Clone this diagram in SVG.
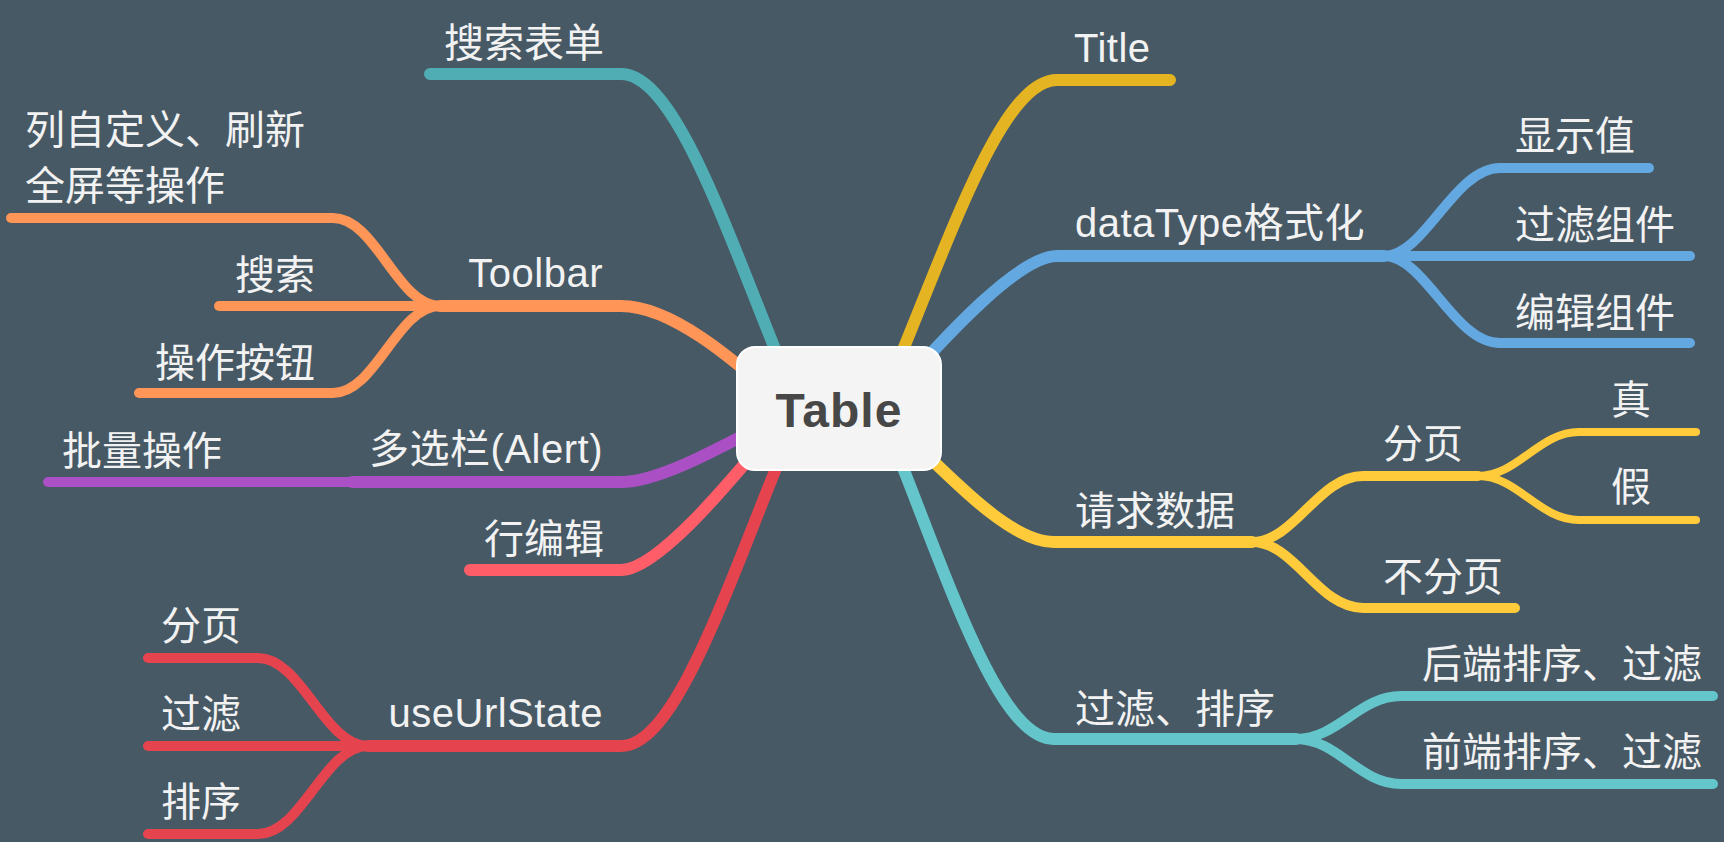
<svg xmlns="http://www.w3.org/2000/svg" width="1724" height="842" viewBox="0 0 1724 842">
<style>
.bg{fill:#475965}
.c{fill:none;stroke-linecap:round;stroke-linejoin:round}
.l1{stroke-width:12}
.l2{stroke-width:10}
.l3{stroke-width:8}
.teal{stroke:#4fadb3}
.orange{stroke:#ff9557}
.purple{stroke:#ab4fc5}
.coral{stroke:#ff5d68}
.red{stroke:#e5444f}
.gold{stroke:#e5b422}
.blue{stroke:#63a8e0}
.yellow{stroke:#ffcb3a}
.cyan{stroke:#64c6cb}
.t{font-family:"Liberation Sans","Noto Sans CJK SC",sans-serif;font-size:40px;fill:#f2f2f2}
.e{text-anchor:end}
.w{letter-spacing:0.5px}
.root rect{fill:#f4f4f4;stroke:#ffffff;stroke-width:2}
.root text{font-family:"Liberation Sans","Noto Sans CJK SC",sans-serif;font-size:48px;font-weight:bold;fill:#474747;text-anchor:middle;letter-spacing:1px}
</style>
<rect class="bg" x="0" y="0" width="1724" height="842"/>
<g id="connectors">
<path class="c l1 teal" d="M 430 74 L 621 74 C 680 74 735 258 800 410"/>
<path class="c l1 orange" d="M 440 306 L 621 306 C 670 306 730 355 790 410"/>
<path class="c l2 orange" d="M 11 218 L 333 218 C 376 218 397 306 440 306"/>
<path class="c l2 orange" d="M 219 306 L 440 306"/>
<path class="c l2 orange" d="M 139 393 L 333 393 C 376 393 397 306 440 306"/>
<path class="c l1 purple" d="M 352 482 L 621 482 C 665 482 740 436 800 406"/>
<path class="c l2 purple" d="M 48 482 L 352 482"/>
<path class="c l1 coral" d="M 470 570 L 621 570 C 660 570 740 470 790 410"/>
<path class="c l1 red" d="M 368 746 L 621 746 C 680 746 735 562 800 410"/>
<path class="c l2 red" d="M 148 658 L 258 658 C 302 658 324 746 368 746"/>
<path class="c l2 red" d="M 148 746 L 368 746"/>
<path class="c l2 red" d="M 148 834 L 258 834 C 302 834 324 746 368 746"/>
<path class="c l1 gold" d="M 1170 80 L 1057 80 C 998 80 943 260 878 410"/>
<path class="c l1 blue" d="M 1384 256 L 1057 256 C 1020 256 950 330 880 410"/>
<path class="c l2 blue" d="M 1649 168 L 1500 168 C 1454 168 1425 256 1384 256"/>
<path class="c l2 blue" d="M 1690 256 L 1384 256"/>
<path class="c l2 blue" d="M 1690 343 L 1500 343 C 1454 343 1425 256 1384 256"/>
<path class="c l1 yellow" d="M 1252 542 L 1054 542 C 1005 542 940 465 880 410"/>
<path class="c l2 yellow" d="M 1478 476 L 1363 476 C 1318 476 1295 542 1252 542"/>
<path class="c l2 yellow" d="M 1515 608 L 1363 608 C 1318 608 1295 542 1252 542"/>
<path class="c l3 yellow" d="M 1696 432 L 1579 432 C 1539 432 1518 476 1478 476"/>
<path class="c l3 yellow" d="M 1696 520 L 1579 520 C 1539 520 1518 476 1478 476"/>
<path class="c l1 cyan" d="M 1296 739 L 1054 739 C 995 739 942 560 880 410"/>
<path class="c l2 cyan" d="M 1713 696 L 1401 696 C 1359 696 1338 739 1296 739"/>
<path class="c l2 cyan" d="M 1713 784 L 1401 784 C 1359 784 1338 739 1296 739"/>
</g>
<g id="root" class="root">
<rect x="737" y="347" width="204" height="123" rx="18" ry="18"/>
<text x="839" y="427">Table</text>
</g>
<g id="n-search-form"><text class="t e" x="604" y="57">搜索表单</text></g>
<g id="n-toolbar"><text class="t e w" x="603" y="287">Toolbar</text></g>
<g id="n-col-custom"><text class="t" x="25" y="144">列自定义、刷新</text><text class="t" x="25" y="200">全屏等操作</text></g>
<g id="n-search"><text class="t e" x="315" y="289">搜索</text></g>
<g id="n-op-btn"><text class="t e" x="315" y="377">操作按钮</text></g>
<g id="n-multi"><text class="t e w" x="603" y="463">多选栏(Alert)</text></g>
<g id="n-batch"><text class="t e" x="222" y="465">批量操作</text></g>
<g id="n-row-edit"><text class="t e" x="604" y="553">行编辑</text></g>
<g id="n-url"><text class="t e w" x="603" y="727">useUrlState</text></g>
<g id="n-url-page"><text class="t" x="161" y="640">分页</text></g>
<g id="n-url-filter"><text class="t" x="161" y="728">过滤</text></g>
<g id="n-url-sort"><text class="t" x="161" y="816">排序</text></g>
<g id="n-title"><text class="t w" x="1074" y="62">Title</text></g>
<g id="n-datatype"><text class="t w" x="1075" y="237">dataType格式化</text></g>
<g id="n-display"><text class="t" x="1515" y="150">显示值</text></g>
<g id="n-filter-comp"><text class="t" x="1515" y="239">过滤组件</text></g>
<g id="n-edit-comp"><text class="t" x="1515" y="327">编辑组件</text></g>
<g id="n-request"><text class="t" x="1075" y="525">请求数据</text></g>
<g id="n-paging"><text class="t" x="1383" y="458">分页</text></g>
<g id="n-true"><text class="t" x="1611" y="414">真</text></g>
<g id="n-false"><text class="t" x="1611" y="501">假</text></g>
<g id="n-nopaging"><text class="t" x="1383" y="591">不分页</text></g>
<g id="n-filter-sort"><text class="t" x="1075" y="723">过滤、排序</text></g>
<g id="n-backend"><text class="t" x="1422" y="678">后端排序、过滤</text></g>
<g id="n-frontend"><text class="t" x="1422" y="766">前端排序、过滤</text></g>
</svg>
